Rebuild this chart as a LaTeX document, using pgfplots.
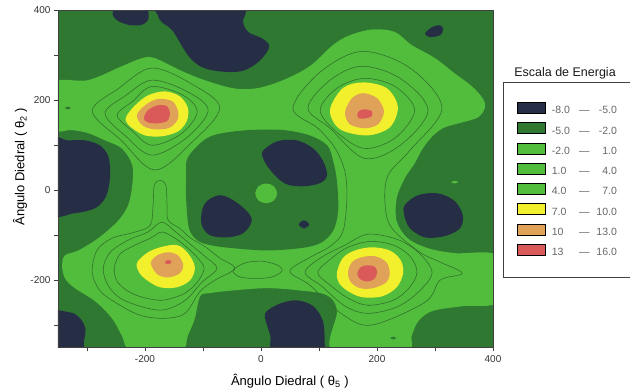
\documentclass[border=0pt]{standalone}
\usepackage{fontspec}
\setmainfont{Liberation Sans}
\usepackage{pgfplots}
\pgfplotsset{compat=1.18}
\definecolor{navy}{HTML}{262E46}
\definecolor{dkgreen}{HTML}{2F7832}
\definecolor{ltgreen}{HTML}{52BC3C}
\definecolor{yel}{HTML}{F2F02C}
\definecolor{org}{HTML}{E0A258}
\definecolor{redp}{HTML}{D95A58}
\definecolor{cline}{HTML}{2F6F2B}
\newcommand{\legrow}[2]{\makebox[25pt][l]{#1}\makebox[15pt][c]{---}\makebox[25pt][r]{#2}\hspace*{6pt}}
\pgfplotsset{
  blob/.style={forget plot, smooth cycle, tension=0.55, draw=none, fill=#1},
  cont/.style={forget plot, smooth cycle, tension=0.55, draw=cline, line width=0.55pt},
}
\begin{document}
\begin{tikzpicture}
\path[use as bounding box] (-58pt,-43.5pt) rectangle (572pt,347.5pt);
\begin{axis}[
  at={(0pt,0pt)}, anchor=south west,
  scale only axis, width=435pt, height=337pt,
  xmin=-350, xmax=400, ymin=-350, ymax=400,
  xtick={-200,0,200,400}, ytick={-200,0,200,400},
  minor xtick={-300,-100,100,300}, minor ytick={-300,-100,100,300},
  xticklabels={-200,0,200,400}, yticklabels={-200,0,200,400},
  tick pos=left, tick align=outside,
  major tick length=4pt, minor tick length=4pt,
  tick style={black!75, line width=0.5pt},
  axis line style={black!75, line width=0.6pt},
  ticklabel style={font=\fontsize{10}{11}\selectfont, text=black!80},
  axis background/.style={fill=dkgreen},
  axis on top,
  xlabel={Ângulo Diedral ( θ\textsubscript{5} )},
  ylabel={Ângulo Diedral ( θ\textsubscript{2} )},
  x label style={at={(axis description cs:0.533,-0.0994)}, anchor=center, font=\fontsize{13}{14}\selectfont},
  y label style={at={(axis description cs:-0.0874,0.536)}, anchor=center, font=\fontsize{13}{14}\selectfont},
  legend image code/.code={\fill[#1] (0pt,-2.5pt) rectangle (28pt,8.5pt);},
  legend style={at={(1.023,0.788)}, anchor=north west, draw=black!75, line width=0.6pt, fill=white,
    inner xsep=14pt, inner ysep=20pt, row sep=7pt, font=\fontsize{10.5}{11}\selectfont, text=black!60,
    nodes={inner sep=0pt}, /tikz/every odd column/.append style={column sep=6pt}},
  legend cell align=left,
]
% light green region (-2 .. 7)
\addplot[blob=ltgreen] coordinates {
(-360,238) (-298,245) (-240,276) (-205,294) (-183,294) (-136,265) (-97,245) (-48,227) (-7,227) (38,245) (84,276) (124,323) (153,345) (193,358) (231,352) (260,323) (300,294) (334,260) (364,231) (383,203) (386,183) (374,162) (347,151) (317,140) (297,122) (279,93) (265,60) (248,27) (234,-18) (234,-69) (253,-107) (288,-129) (334,-140) (410,-147) (410,-247) (347,-258) (295,-269) (271,-292) (260,-323) (248,-360) (124,-360) (131,-269) (114,-234) (67,-223) (10,-218) (-48,-223) (-88,-229) (-105,-236) (-114,-285) (-126,-323) (-140,-360) (-222,-360) (-240,-323) (-257,-285) (-286,-247) (-321,-218) (-338,-196) (-343,-167) (-338,-145) (-315,-134) (-281,-107) (-247,-69) (-229,-33) (-222,11) (-222,56) (-240,93) (-269,111) (-298,127) (-326,134) (-360,138)};
% central dark region (-5 .. -2)
\addplot[blob=dkgreen] coordinates {
(-128,67) (-114,93) (-93,116) (-67,127) (-19,134) (38,134) (84,122) (114,100) (124,67) (131,20) (133,-47) (124,-91) (102,-118) (67,-129) (10,-134) (-48,-129) (-88,-122) (-110,-111) (-124,-85) (-129,-22) (-129,33)};
% wells (-8 .. -5)
\addplot[blob=navy] coordinates {(-256,395) (-240,410) (-200,410) (-194,382) (-206,368) (-228,368) (-248,378)};
\addplot[blob=navy] coordinates {(-174,412) (-36,412) (-31,374) (-22,352) (2,338) (14,323) (10,307) (-5,285) (-28,267) (-53,263) (-84,267) (-105,276) (-122,294) (-134,316) (-153,356) (-171,374) (-178,390)};
\addplot[blob=navy] coordinates {(283,349) (295,363) (309,367) (314,358) (309,345) (291,341)};
\addplot[blob=navy] coordinates {(-370,111) (-333,111) (-303,111) (-278,100) (-264,78) (-260,45) (-262,11) (-269,-18) (-286,-40) (-321,-51) (-370,-49)};
\addplot[blob=navy] coordinates {(3,87) (28,109) (62,111) (90,93) (107,65) (114,33) (102,16) (76,9) (50,11) (33,22) (16,45) (5,67)};
\addplot[blob=navy] coordinates {(-93,-24) (-71,-11) (-48,-22) (-24,-47) (-16,-69) (-31,-96) (-59,-105) (-88,-100) (-102,-78) (-102,-47)};
\addplot[blob=navy] coordinates {(65,-76) (74,-67) (83,-76) (74,-85)};
\addplot[blob=navy] coordinates {(248,-33) (271,-11) (305,-7) (334,-24) (348,-56) (343,-85) (317,-102) (283,-105) (257,-85) (247,-56)};
\addplot[blob=navy] coordinates {(-370,-274) (-329,-272) (-312,-285) (-303,-307) (-305,-334) (-312,-365) (-370,-365)};
\addplot[blob=navy] coordinates {(7,-285) (10,-269) (33,-252) (62,-245) (90,-258) (107,-292) (110,-345) (110,-367) (24,-367) (16,-323)};
% small features
\addplot[blob=ltgreen] coordinates {(-10,-7) (-4,9) (9,15) (22,9) (28,-7) (22,-23) (9,-29) (-4,-23)};
\addplot[blob=ltgreen] coordinates {(328,18) (334,21) (340,18) (334,15)};
\addplot[blob=dkgreen] coordinates {(-338,183) (-333,186) (-328,183) (-333,180)};
\addplot[blob=dkgreen] coordinates {(223,-329) (228,-326) (233,-329) (228,-332)};
% contour lines
\addplot[cont] coordinates {(-291,176) (-245,227) (-188,272) (-119,236) (-71,183) (-119,107) (-183,45) (-241,111)};
\addplot[cont] coordinates {(-269,171) (-233,211) (-188,245) (-128,220) (-91,178) (-129,116) (-188,78) (-233,120)};
\addplot[cont] coordinates {(-248,167) (-221,198) (-188,231) (-134,211) (-110,174) (-138,125) (-188,100) (-221,131)};
\addplot[cont] coordinates {(55,183) (102,263) (174,309) (257,272) (312,183) (257,89) (219,33) (214,-33) (226,-85) (274,-138) (309,-160) (347,-185) (309,-200) (283,-249) (191,-300) (140,-276) (84,-211) (50,-180) (88,-147) (119,-125) (141,-93) (148,-22) (145,40) (128,93) (98,138)};
\addplot[cont] coordinates {(81,183) (119,245) (174,276) (240,249) (288,178) (240,100) (178,71) (119,138)};
\addplot[cont] coordinates {(102,178) (131,227) (178,249) (231,231) (265,178) (231,116) (178,93) (131,129)};
\addplot[cont] coordinates {(76,-183) (102,-151) (145,-122) (184,-98) (234,-109) (271,-138) (295,-183) (271,-227) (234,-260) (184,-274) (145,-258) (105,-214)};
\addplot[cont] coordinates {(98,-183) (122,-151) (150,-127) (188,-114) (228,-122) (257,-147) (269,-183) (255,-218) (228,-245) (184,-256) (150,-240) (119,-211)};
\addplot[cont] coordinates {(-174,22) (-164,11) (-162,-33) (-160,-67) (-140,-85) (-122,-106) (-97,-125) (-71,-151) (-45,-174) (-79,-200) (-105,-225) (-131,-274) (-166,-285) (-209,-278) (-252,-249) (-278,-223) (-291,-183) (-283,-134) (-257,-107) (-217,-93) (-191,-78) (-186,-33) (-184,11)};
\addplot[cont] coordinates {(-272,-174) (-260,-138) (-229,-111) (-195,-93) (-171,-71) (-147,-93) (-122,-120) (-97,-147) (-76,-174) (-102,-205) (-126,-240) (-148,-258) (-174,-267) (-209,-258) (-243,-240) (-264,-211)};
\addplot[cont] coordinates {(-253,-174) (-243,-142) (-217,-122) (-191,-107) (-171,-93) (-148,-107) (-126,-129) (-109,-151) (-98,-174) (-110,-205) (-131,-229) (-153,-240) (-174,-245) (-205,-238) (-229,-225) (-248,-203)};
\addplot[cont] coordinates {(-48,-178) (-28,-162) (2,-158) (29,-167) (36,-180) (16,-194) (-19,-196) (-40,-191)};
% maxima
\addplot[blob=yel] coordinates {(-231,167) (-217,189) (-195,211) (-166,220) (-140,209) (-126,183) (-128,154) (-143,131) (-171,120) (-200,122) (-222,138) (-233,154)};
\addplot[blob=org] coordinates {(-214,167) (-200,189) (-178,203) (-153,198) (-143,176) (-145,154) (-160,138) (-186,136) (-205,145)};
\addplot[blob=redp] coordinates {(-202,160) (-195,178) (-178,189) (-162,187) (-157,171) (-162,154) (-179,149) (-195,151)};
\addplot[blob=yel] coordinates {(119,178) (141,227) (176,240) (217,227) (236,185) (222,140) (183,122) (136,136)};
\addplot[blob=org] coordinates {(145,174) (157,205) (176,216) (200,205) (212,176) (202,147) (179,138) (153,147)};
\addplot[blob=redp] coordinates {(166,169) (171,178) (181,180) (191,176) (191,165) (181,160) (169,160)};
\addplot[blob=yel] coordinates {(-214,-162) (-197,-140) (-174,-127) (-145,-122) (-126,-140) (-114,-171) (-122,-200) (-145,-216) (-174,-216) (-197,-200) (-210,-183)};
\addplot[blob=org] coordinates {(-190,-162) (-179,-145) (-160,-138) (-143,-145) (-134,-167) (-140,-185) (-160,-194) (-179,-187)};
\addplot[blob=redp] coordinates {(-166,-160) (-160,-155) (-154,-160) (-160,-165)};
\addplot[blob=yel] coordinates {(131,-183) (141,-151) (162,-134) (191,-127) (222,-134) (241,-156) (245,-185) (234,-216) (209,-236) (174,-238) (148,-223) (134,-205)};
\addplot[blob=org] coordinates {(150,-183) (157,-160) (174,-149) (197,-147) (216,-160) (222,-183) (216,-205) (193,-218) (171,-218) (155,-205)};
\addplot[blob=redp] coordinates {(166,-185) (172,-171) (184,-167) (197,-171) (200,-185) (195,-198) (183,-203) (171,-198)};
% legend
\addlegendimage{fill=navy}\addlegendentry{\legrow{-8.0}{-5.0}}
\addlegendimage{fill=dkgreen}\addlegendentry{\legrow{-5.0}{-2.0}}
\addlegendimage{fill=ltgreen}\addlegendentry{\legrow{-2.0}{1.0}}
\addlegendimage{fill=ltgreen}\addlegendentry{\legrow{1.0}{4.0}}
\addlegendimage{fill=ltgreen}\addlegendentry{\legrow{4.0}{7.0}}
\addlegendimage{fill=yel}\addlegendentry{\legrow{7.0}{10.0}}
\addlegendimage{fill=org}\addlegendentry{\legrow{10}{13.0}}
\addlegendimage{fill=redp}\addlegendentry{\legrow{13}{16.0}}
\end{axis}
\node[font=\fontsize{12.5}{14}\selectfont, text=black!90] at (507pt,274.5pt) {Escala de Energia};
\end{tikzpicture}
\end{document}
